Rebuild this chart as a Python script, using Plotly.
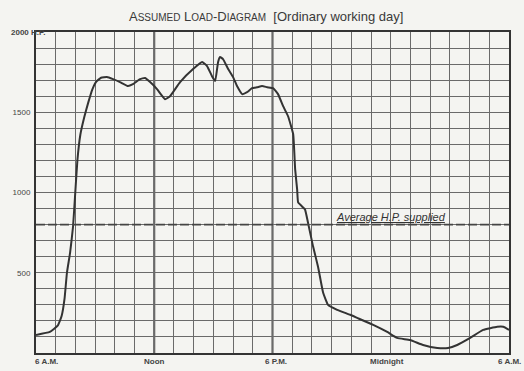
import plotly.graph_objects as go

# Hours after 6 A.M. and load in H.P.
hours = [0.0, 0.7, 1.1, 1.3, 1.45, 1.57, 1.73, 1.88, 1.98, 2.1, 2.25, 2.45, 2.65, 2.85,
         3.05, 3.3, 3.6, 3.91, 4.26, 4.67, 4.92, 5.28, 5.53, 5.79, 6.14, 6.55, 6.8, 7.31, 7.97,
         8.43, 8.68, 8.93, 9.09, 9.24, 9.34, 9.49, 9.75, 10.0, 10.2, 10.46, 10.71, 10.96, 11.22,
         11.47, 11.73, 12.03, 12.28, 12.54, 12.79, 13.05, 13.15, 13.25, 13.3, 13.5, 13.65, 13.8,
         14.06, 14.31, 14.57, 14.82, 15.28, 15.94, 16.29, 17.11, 17.82, 18.32, 18.98, 19.64,
         20.36, 20.91, 21.37, 22.03, 22.69, 23.4, 23.71, 24.0]
load_hp = [112, 131, 170, 230, 340, 500, 625, 788, 975, 1200, 1360, 1470, 1560, 1640,
           1690, 1715, 1719, 1706, 1688, 1663, 1675, 1706, 1713, 1688, 1644, 1581, 1600, 1688, 1769,
           1813, 1788, 1725, 1694, 1813, 1844, 1831, 1769, 1719, 1663, 1613, 1625, 1650, 1656,
           1663, 1656, 1650, 1613, 1538, 1475, 1363, 1144, 1019, 938, 913, 894, 813,
           663, 538, 375, 300, 269, 238, 219, 175, 131, 94, 81, 50,
           31, 31, 50, 94, 144, 163, 163, 144]

AVERAGE_HP = 800

x_label_pos = [0.55, 6, 12.2, 17.8, 24]
x_label_text = ["6 A.M.", "Noon", "6 P.M.", "Midnight", "6 A.M."]
y_tick_vals = [500, 1000, 1500]
y_tick_text = ["500", "1000", "1500"]

INK = "#333333"
GRID = "#6a6a6a"
PAPER = "#f4f4f1"
FONT = "Liberation Sans"

fig = go.Figure()

fig.add_trace(go.Scatter(
    x=hours, y=load_hp, mode="lines",
    line=dict(color=INK, width=2, shape="spline", smoothing=0.35),
    hoverinfo="skip", showlegend=False))

fig.add_trace(go.Scatter(
    x=[0, 24], y=[AVERAGE_HP, AVERAGE_HP], mode="lines",
    line=dict(color="#444444", width=1.6, dash="9px,3px"),
    hoverinfo="skip", showlegend=False))

# slightly heavier rulings at noon and 6 P.M.
for h in [6, 12]:
    fig.add_shape(type="line", x0=h, x1=h, y0=0, y1=2000, xref="x", yref="y",
                  line=dict(color="#4a4a4a", width=2), layer="below")

fig.add_annotation(x=15.1, y=AVERAGE_HP, xref="x", yref="y", yanchor="bottom", xanchor="left",
                   text="<i><u>Average H.P. supplied</u></i>", showarrow=False,
                   font=dict(family=FONT, size=11, color="#333333"), yshift=0)

for pos, txt in zip(x_label_pos, x_label_text):
    fig.add_annotation(x=pos, y=0, xref="x", yref="y", yanchor="top", yshift=-2,
                       text="<b>" + txt + "</b>", showarrow=False,
                       font=dict(family=FONT, size=8, color="#444444"))

fig.add_annotation(x=0, y=2000, xref="paper", yref="y", xanchor="left", yanchor="middle",
                   xshift=-27, text="<b>2000 H.P.</b>", showarrow=False,
                   font=dict(family=FONT, size=8, color="#444444"))

fig.update_layout(
    width=524, height=371,
    margin=dict(l=36, r=15, t=32, b=18, autoexpand=False),
    paper_bgcolor=PAPER, plot_bgcolor=PAPER,
    title=dict(
        text="A<span style='font-size:10px'>SSUMED</span> L<span style='font-size:10px'>OAD</span>-D"
             "<span style='font-size:10px'>IAGRAM</span>  [Ordinary working day]",
        x=0.508, xanchor="center", y=0.955, yanchor="middle",
        font=dict(family=FONT, size=13, color="#3a3a3a")),
    xaxis=dict(range=[0, 24], dtick=1, showticklabels=False, showgrid=True,
               gridcolor=GRID, gridwidth=1.2, zeroline=False, showline=True,
               linecolor=INK, linewidth=2, mirror=True, ticks="", automargin=False),
    yaxis=dict(range=[0, 2000], tickvals=y_tick_vals, ticktext=y_tick_text,
               showgrid=True, gridcolor=GRID, gridwidth=1.2, zeroline=False,
               showline=True, linecolor=INK, linewidth=2, mirror=True, ticks="",
               automargin=False, ticklabelstandoff=2,
               tickfont=dict(family=FONT, size=8, color="#444444"),
               minor=dict(dtick=100, showgrid=True, gridcolor=GRID, gridwidth=1.2)),
)

fig.write_html("out.html", config={"displayModeBar": False},
               post_script="document.body.style.margin='0';")
